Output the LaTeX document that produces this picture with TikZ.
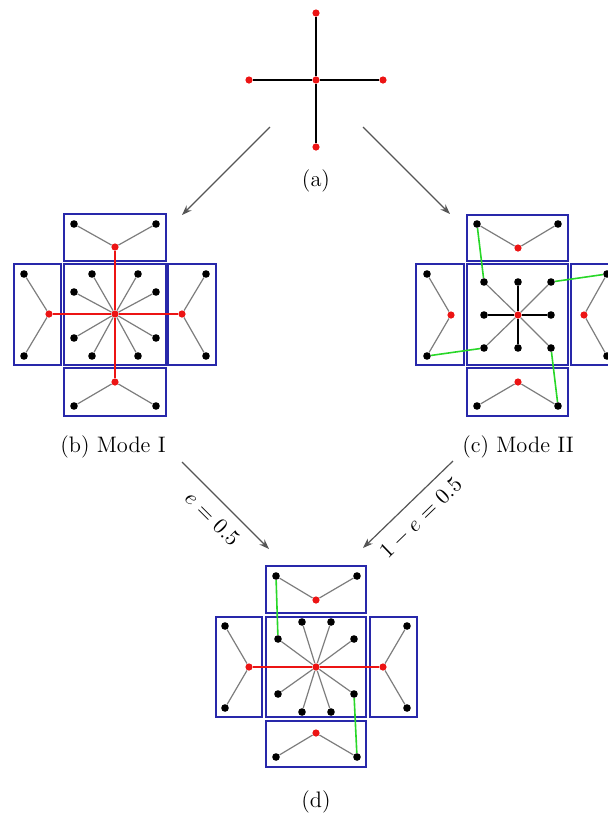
\documentclass[tikz,border=0pt]{standalone}
\usepackage{amsmath}
\usetikzlibrary{arrows.meta}
\definecolor{dotredclr}{RGB}{236,20,20}
\definecolor{cellclr}{RGB}{40,40,170}
\definecolor{linkclr}{RGB}{125,125,125}
\definecolor{greenclr}{RGB}{40,215,40}
\definecolor{flowclr}{RGB}{85,85,85}
\tikzset{
  dotr/.style={circle, fill=dotredclr, inner sep=0pt, minimum size=3.6pt},
  dotk/.style={circle, fill=black, inner sep=0pt, minimum size=3.8pt},
  cell/.style={draw=cellclr, line width=0.7pt},
  grayedge/.style={draw=linkclr, line width=0.6pt},
  blackedge/.style={draw=black, line width=0.6pt},
  rededge/.style={draw=dotredclr, line width=0.6pt},
  greenedge/.style={draw=greenclr, line width=0.8pt},
  flow/.style={draw=flowclr, line width=0.6pt, -{Stealth[length=5pt,width=3.6pt]}},
  sublabel/.style={font=\fontsize{11.2}{13}\selectfont, inner sep=0pt}
}
\begin{document}
\begin{tikzpicture}[x=0.5pt, y=-0.5pt]
  \clip (0,0) rectangle (608,821);
  % (a)
  \node[dotr] (a0) at (316,80) {};
  \node[dotr] (a1) at (316,13) {};
  \node[dotr] (a2) at (249,80) {};
  \node[dotr] (a3) at (383,80) {};
  \node[dotr] (a4) at (316,147) {};
  \draw[blackedge] (a0) -- (a1);
  \draw[blackedge] (a0) -- (a2);
  \draw[blackedge] (a0) -- (a3);
  \draw[blackedge] (a0) -- (a4);
  \node[sublabel] (capa) at (316,181) {(a)};

  % (b) Mode I
  \draw[cell] (64,214) rectangle (166,261);
  \draw[cell] (64,264) rectangle (166,365);
  \draw[cell] (14,264) rectangle (61,365);
  \draw[cell] (168,264) rectangle (216,365);
  \draw[cell] (64,368) rectangle (166,416);
  \node[dotr] (bc) at (115,314) {};
  \node[dotr] (bt) at (115,247) {};
  \node[dotk] (bt1) at (74,224) {};
  \node[dotk] (bt2) at (156,224) {};
  \node[dotr] (bl) at (49,314) {};
  \node[dotk] (bl1) at (24,274) {};
  \node[dotk] (bl2) at (24,356) {};
  \node[dotr] (br) at (182,314) {};
  \node[dotk] (br1) at (206,274) {};
  \node[dotk] (br2) at (206,356) {};
  \node[dotr] (bb) at (115,382) {};
  \node[dotk] (bb1) at (74,406) {};
  \node[dotk] (bb2) at (156,406) {};
  \node[dotk] (b1) at (92,274) {};
  \node[dotk] (b2) at (138,274) {};
  \node[dotk] (b3) at (74,292) {};
  \node[dotk] (b4) at (156,292) {};
  \node[dotk] (b5) at (74,338) {};
  \node[dotk] (b6) at (156,338) {};
  \node[dotk] (b7) at (92,356) {};
  \node[dotk] (b8) at (138,356) {};
  \draw[grayedge] (bc) -- (b1);  \draw[grayedge] (bc) -- (b2);
  \draw[grayedge] (bc) -- (b3);  \draw[grayedge] (bc) -- (b4);
  \draw[grayedge] (bc) -- (b5);  \draw[grayedge] (bc) -- (b6);
  \draw[grayedge] (bc) -- (b7);  \draw[grayedge] (bc) -- (b8);
  \draw[grayedge] (bt) -- (bt1); \draw[grayedge] (bt) -- (bt2);
  \draw[grayedge] (bl) -- (bl1); \draw[grayedge] (bl) -- (bl2);
  \draw[grayedge] (br) -- (br1); \draw[grayedge] (br) -- (br2);
  \draw[grayedge] (bb) -- (bb1); \draw[grayedge] (bb) -- (bb2);
  \draw[rededge] (bc) -- (bt);   \draw[rededge] (bc) -- (bb);
  \draw[rededge] (bc) -- (bl);   \draw[rededge] (bc) -- (br);
  \node[sublabel] (capb) at (113,447) {(b)\ Mode I};

  % (c) Mode II
  \draw[cell] (467,215) rectangle (568,261);
  \draw[cell] (467,264) rectangle (568,365);
  \draw[cell] (416,264) rectangle (464,365);
  \draw[cell] (571,264) rectangle (619,365);
  \draw[cell] (467,368) rectangle (568,416);
  \node[dotr] (cc) at (518,315) {};
  \node[dotr] (ct) at (518,248) {};
  \node[dotk] (ct1) at (477,224) {};
  \node[dotk] (ct2) at (558,224) {};
  \node[dotr] (cl) at (451,315) {};
  \node[dotk] (cl1) at (427,274) {};
  \node[dotk] (cl2) at (427,356) {};
  \node[dotr] (cr) at (584,315) {};
  \node[dotk] (cr1) at (607,274) {};
  \node[dotk] (cr2) at (607,356) {};
  \node[dotr] (cb) at (518,382) {};
  \node[dotk] (cb1) at (477,406) {};
  \node[dotk] (cb2) at (558,406) {};
  \node[dotk] (c1) at (484,282) {};
  \node[dotk] (c2) at (518,282) {};
  \node[dotk] (c3) at (551,282) {};
  \node[dotk] (c4) at (484,315) {};
  \node[dotk] (c5) at (551,315) {};
  \node[dotk] (c6) at (484,348) {};
  \node[dotk] (c7) at (518,348) {};
  \node[dotk] (c8) at (551,348) {};
  \draw[grayedge] (cc) -- (c1);  \draw[blackedge] (cc) -- (c2);
  \draw[grayedge] (cc) -- (c3);  \draw[blackedge] (cc) -- (c4);
  \draw[blackedge] (cc) -- (c5); \draw[grayedge] (cc) -- (c6);
  \draw[blackedge] (cc) -- (c7); \draw[grayedge] (cc) -- (c8);
  \draw[grayedge] (ct) -- (ct1); \draw[grayedge] (ct) -- (ct2);
  \draw[grayedge] (cl) -- (cl1); \draw[grayedge] (cl) -- (cl2);
  \draw[grayedge] (cr) -- (cr1); \draw[grayedge] (cr) -- (cr2);
  \draw[grayedge] (cb) -- (cb1); \draw[grayedge] (cb) -- (cb2);
  \draw[greenedge] (ct1) -- (c1); \draw[greenedge] (cl2) -- (c6);
  \draw[greenedge] (c3) -- (cr1); \draw[greenedge] (c8) -- (cb2);
  \node[sublabel] (capc) at (518,447) {(c)\ Mode II};

  % (d)
  \draw[cell] (266,566) rectangle (366,613);
  \draw[cell] (266,617) rectangle (366,717);
  \draw[cell] (216,617) rectangle (262,717);
  \draw[cell] (370,617) rectangle (417,717);
  \draw[cell] (266,721) rectangle (366,767);
  \node[dotr] (dc) at (316,667) {};
  \node[dotr] (dt) at (316,600) {};
  \node[dotk] (dt1) at (276,576) {};
  \node[dotk] (dt2) at (357,576) {};
  \node[dotr] (dl) at (249,667) {};
  \node[dotk] (dl1) at (225,626) {};
  \node[dotk] (dl2) at (225,708) {};
  \node[dotr] (dr) at (383,667) {};
  \node[dotk] (dr1) at (407,626) {};
  \node[dotk] (dr2) at (407,708) {};
  \node[dotr] (db) at (316,733) {};
  \node[dotk] (db1) at (276,757) {};
  \node[dotk] (db2) at (357,757) {};
  \node[dotk] (d1) at (302,622) {};
  \node[dotk] (d2) at (331,622) {};
  \node[dotk] (d3) at (278,639) {};
  \node[dotk] (d4) at (354,639) {};
  \node[dotk] (d5) at (278,694) {};
  \node[dotk] (d6) at (354,694) {};
  \node[dotk] (d7) at (302,712) {};
  \node[dotk] (d8) at (331,712) {};
  \draw[grayedge] (dc) -- (d1);  \draw[grayedge] (dc) -- (d2);
  \draw[grayedge] (dc) -- (d3);  \draw[grayedge] (dc) -- (d4);
  \draw[grayedge] (dc) -- (d5);  \draw[grayedge] (dc) -- (d6);
  \draw[grayedge] (dc) -- (d7);  \draw[grayedge] (dc) -- (d8);
  \draw[grayedge] (dt) -- (dt1); \draw[grayedge] (dt) -- (dt2);
  \draw[grayedge] (dl) -- (dl1); \draw[grayedge] (dl) -- (dl2);
  \draw[grayedge] (dr) -- (dr1); \draw[grayedge] (dr) -- (dr2);
  \draw[grayedge] (db) -- (db1); \draw[grayedge] (db) -- (db2);
  \draw[rededge] (dc) -- (dl);   \draw[rededge] (dc) -- (dr);
  \draw[greenedge] (dt1) -- (d3); \draw[greenedge] (d6) -- (db2);
  \node[sublabel] (capd) at (316,802) {(d)};

  % arrows between the panels
  \coordinate (fromaL) at (270,127);
  \coordinate (tob) at (182,215);
  \coordinate (fromaR) at (363,127);
  \coordinate (toc) at (450,214);
  \coordinate (fromb) at (182,462);
  \coordinate (todL) at (269,549);
  \coordinate (fromc) at (453,461);
  \coordinate (todR) at (363,548);
  \draw[flow] (fromaL) -- (tob);
  \draw[flow] (fromaR) -- (toc);
  \draw[flow] (fromb) -- node[sloped, below=2pt, font=\fontsize{11.2}{13}\selectfont] {$e=0.5$} (todL);
  \draw[flow] (fromc) -- node[sloped, below=2pt, font=\fontsize{11.2}{13}\selectfont] {$1-e=0.5$} (todR);
\end{tikzpicture}
\end{document}
